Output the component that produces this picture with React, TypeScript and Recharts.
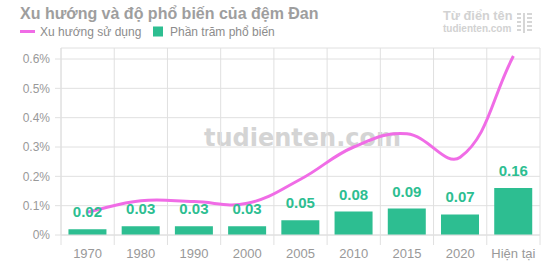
import React from 'react';
import { ComposedChart, Bar, Line, XAxis, YAxis, CartesianGrid, LabelList } from 'recharts';

const categories = ['1970', '1980', '1990', '2000', '2005', '2010', '2015', '2020', 'Hiện tại'];
const trendValues = [0.078, 0.117, 0.114, 0.108, 0.19, 0.3, 0.345, 0.265, 0.61];
const percentValues = [0.02, 0.03, 0.03, 0.03, 0.05, 0.08, 0.09, 0.07, 0.16];
const yTicks = [0, 0.1, 0.2, 0.3, 0.4, 0.5, 0.6];

const data = categories.map((name, i) => ({ name, trend: trendValues[i], percent: percentValues[i] }));

const W = 550;
const H = 275;
const M = { top: 48, right: 10, bottom: 10, left: 11 };
const Y_W = 50;
const X_H = 30;
const PLOT_L = M.left + Y_W;
const PLOT_R = W - M.right;
const PLOT_W = PLOT_R - PLOT_L;
const BAND = PLOT_W / categories.length;

const FONT = '"Liberation Sans", Arial, Helvetica, sans-serif';
const GRID = '#e0e0e0';
const BAR = '#2dbe91';
const LINE = '#f06ce6';

function chartjsCurve(context: any) {
  let pts: number[][] = [];
  return {
    areaStart() {},
    areaEnd() {},
    lineStart() {
      pts = [];
    },
    point(x: number, y: number) {
      pts.push([+x, +y]);
    },
    lineEnd() {
      const n = pts.length;
      if (!n) return;
      const t = 0.4;
      const cps = pts.map((p, i) => {
        const prev = pts[i - 1] || p;
        const next = pts[i + 1] || p;
        const d01 = Math.hypot(p[0] - prev[0], p[1] - prev[1]);
        const d12 = Math.hypot(next[0] - p[0], next[1] - p[1]);
        let s01 = d01 / (d01 + d12);
        let s12 = d12 / (d01 + d12);
        if (isNaN(s01)) s01 = 0;
        if (isNaN(s12)) s12 = 0;
        const fa = t * s01;
        const fb = t * s12;
        return {
          px: p[0] - fa * (next[0] - prev[0]),
          py: p[1] - fa * (next[1] - prev[1]),
          nx: p[0] + fb * (next[0] - prev[0]),
          ny: p[1] + fb * (next[1] - prev[1]),
        };
      });
      context.moveTo(pts[0][0], pts[0][1]);
      for (let i = 1; i < n; i++) {
        context.bezierCurveTo(cps[i - 1].nx, cps[i - 1].ny, cps[i].px, cps[i].py, pts[i][0], pts[i][1]);
      }
    },
  };
}

const XTick = (props: any) => {
  const { x, y, payload, index } = props;
  const last = index === categories.length - 1;
  return (
    <g>
      <line x1={x - BAND / 2} x2={x - BAND / 2} y1={y} y2={y + 10} stroke={GRID} />
      {last && <line x1={x + BAND / 2} x2={x + BAND / 2} y1={y} y2={y + 10} stroke={GRID} />}
      <text x={x} y={y + 22.5} textAnchor="middle" fill="#999" fontSize={13} fontFamily={FONT}>
        {payload.value}
      </text>
    </g>
  );
};

export default function App() {
  const vLines = Array.from({ length: categories.length + 1 }, (_, i) => PLOT_L + i * BAND);
  return (
    <div style={{ position: 'absolute', left: 0, top: 0, width: W, height: H, background: '#fff', fontFamily: FONT }}>
      <svg width={W} height={H} style={{ position: 'absolute', left: 0, top: 0 }}>
        <text
          x={(PLOT_L + PLOT_R) / 2 + 2}
          y={145.5}
          textAnchor="middle"
          fontFamily='"DejaVu Sans", Verdana, sans-serif'
          fontWeight="bold"
          fontSize={24}
          fill="#d4d4d4"
        >
          tudienten.com
        </text>
      </svg>
      <div style={{ position: 'absolute', left: 0, top: 0 }}>
        <ComposedChart width={W} height={H} data={data} margin={M} barCategoryGap="14%">
          <CartesianGrid stroke={GRID} verticalCoordinatesGenerator={() => vLines} />
          <XAxis
            dataKey="name"
            interval={0}
            height={X_H}
            tickSize={0}
            tickMargin={0}
            tickLine={false}
            axisLine={{ stroke: GRID }}
            tick={<XTick />}
          />
          <YAxis
            type="number"
            width={Y_W}
            domain={[0, 0.6375]}
            ticks={yTicks}
            tickSize={6}
            tickMargin={5}
            axisLine={{ stroke: GRID }}
            tickLine={{ stroke: GRID }}
            tick={{ fill: '#999', fontSize: 12, fontFamily: FONT }}
            tickFormatter={(v: number) => `${Math.round(v * 10) / 10}%`}
          />
          <Bar dataKey="percent" fill={BAR} isAnimationActive={false}>
            <LabelList
              dataKey="percent"
              position="top"
              offset={12}
              fill={BAR}
              fontSize={15}
              fontWeight="bold"
              fontFamily={FONT}
              formatter={(v: any) => Number(v).toFixed(2)}
            />
          </Bar>
          <Line
            dataKey="trend"
            type={chartjsCurve as any}
            stroke={LINE}
            strokeWidth={3}
            dot={false}
            activeDot={false}
            isAnimationActive={false}
          />
        </ComposedChart>
      </div>
      <svg width={W} height={H} style={{ position: 'absolute', left: 0, top: 0, pointerEvents: 'none' }}>
        <text x={20} y={19} fontFamily={FONT} fontWeight="bold" fontSize={16} fill="#9e9e9e">
          Xu hướng và độ phổ biến của đệm Đan
        </text>
        <line x1={20} x2={35} y1={31.5} y2={31.5} stroke={LINE} strokeWidth={3} />
        <text x={40} y={35.5} fontFamily={FONT} fontSize={12} fill="#8c8c8c">
          Xu hướng sử dụng
        </text>
        <rect x={153} y={26.5} width={10} height={10} fill={BAR} />
        <text x={170} y={35.5} fontFamily={FONT} fontSize={12} fill="#8c8c8c">
          Phần trăm phổ biến
        </text>
        <text x={443} y={20} fontFamily={FONT} fontWeight="bold" fontSize={12.75} fill="#d2d2d2">
          Từ điển tên
        </text>
        <text x={443} y={32} fontFamily={FONT} fontWeight="bold" fontSize={10} fill="#d2d2d2">
          tudienten.com
        </text>
        <g fill="#d6d6d6">
          <rect x={517} y={13} width={4} height={2} />
          <rect x={517} y={17} width={4} height={2} />
          <rect x={517} y={21} width={4} height={2} />
          <rect x={517} y={25} width={4} height={2} />
          <rect x={517} y={29} width={4} height={2} />
          <rect x={523} y={13} width={2} height={20} />
          <rect x={527} y={13} width={5} height={2} />
          <rect x={527} y={17} width={5} height={2} />
          <rect x={527} y={21} width={5} height={2} />
          <rect x={527} y={25} width={5} height={2} />
          <rect x={527} y={29} width={5} height={2} />
        </g>
      </svg>
    </div>
  );
}
